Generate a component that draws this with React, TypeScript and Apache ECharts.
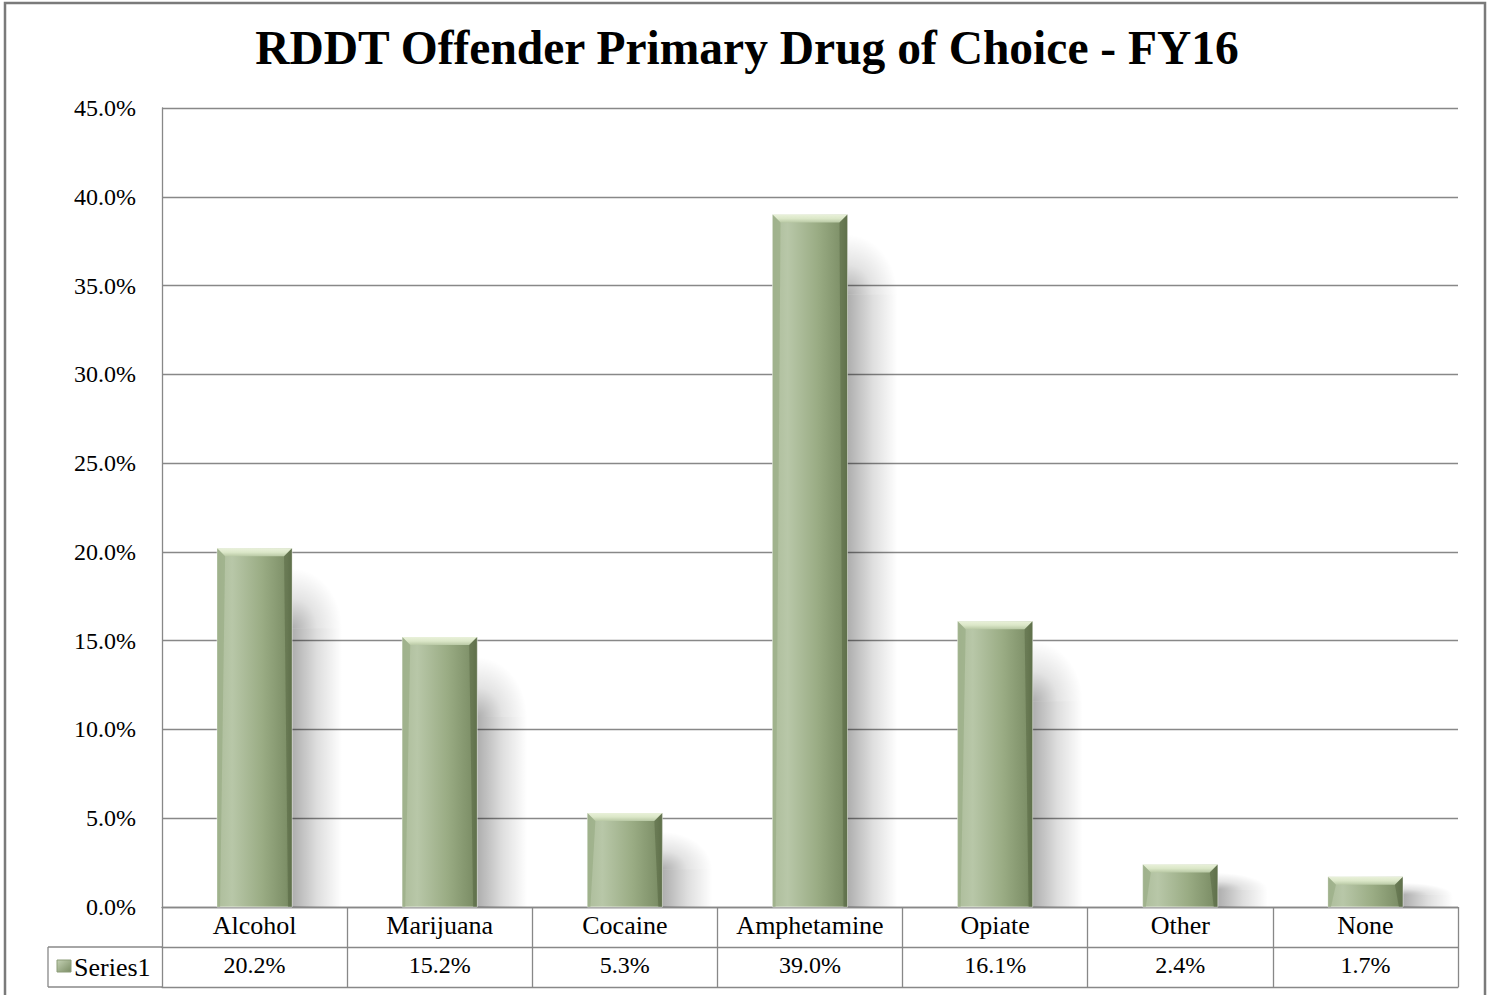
import React, { useEffect, useRef } from "react";
import * as echarts from "echarts";

const categories = ["Alcohol", "Marijuana", "Cocaine", "Amphetamine", "Opiate", "Other", "None"];
const values = [20.2, 15.2, 5.3, 39.0, 16.1, 2.4, 1.7];
const seriesName = "Series1";
const yTicks = { min: 0, max: 45, interval: 5 };
const titleText = "RDDT Offender Primary Drug of Choice - FY16";

const FONT = "'Liberation Serif', 'DejaVu Serif', serif";
const LINE = "#888888";
const LBL = 24;
const CAT = 26;

export default function App() {
  const ref = useRef<HTMLDivElement>(null);
  useEffect(() => {
    if (!ref.current) return;
    const chart = echarts.init(ref.current, null, { renderer: "svg" });
    const barGrad = new echarts.graphic.LinearGradient(0, 0, 1, 0, [
      { offset: 0, color: "#adbd9b" },
      { offset: 0.2, color: "#b8c7a8" },
      { offset: 0.6, color: "#9aac84" },
      { offset: 0.92, color: "#7e9068" },
      { offset: 1, color: "#6c7e57" },
    ]);
    const bevelGrad = new echarts.graphic.LinearGradient(0, 0, 0, 1, [
      { offset: 0, color: "#e9f1da" },
      { offset: 0.5, color: "#dbe7c8" },
      { offset: 1, color: "#b9c9a5" },
    ]);
    const shadowGrad = new echarts.graphic.LinearGradient(0, 0, 1, 0, [
      { offset: 0, color: "rgba(0,0,0,0.32)" },
      { offset: 0.5, color: "rgba(0,0,0,0.13)" },
      { offset: 1, color: "rgba(0,0,0,0)" },
    ]);
    const fadeGrad = new echarts.graphic.RadialGradient(0, 1, 1, [
      { offset: 0, color: "rgba(0,0,0,0.32)" },
      { offset: 0.5, color: "rgba(0,0,0,0.11)" },
      { offset: 1, color: "rgba(0,0,0,0)" },
    ]);
    chart.setOption({
      animation: false,
      backgroundColor: "#ffffff",
      title: {
        text: titleText,
        left: "center",
        top: 19,
        textStyle: { fontFamily: FONT, fontWeight: "bold", fontSize: 47.5, color: "#000" },
      },
      grid: { left: 162, right: 36, top: 108, bottom: 88 },
      yAxis: {
        type: "value",
        min: yTicks.min,
        max: yTicks.max,
        interval: yTicks.interval,
        axisLine: { show: true, lineStyle: { color: LINE, width: 1.3 } },
        axisTick: { show: false },
        splitLine: { lineStyle: { color: LINE, width: 1.3 } },
        axisLabel: {
          formatter: (v: number) => v.toFixed(1) + "%",
          fontFamily: FONT,
          fontSize: LBL,
          color: "#000",
          margin: 26,
        },
      },
      xAxis: [
        {
          type: "category",
          data: categories,
          position: "bottom",
          axisLine: { show: true, lineStyle: { color: LINE, width: 1.3 } },
          axisTick: { show: true, length: 80, interval: 0, lineStyle: { color: LINE, width: 1.3 } },
          axisLabel: { fontFamily: FONT, fontSize: CAT, color: "#000", margin: 5, interval: 0 },
        },
        {
          type: "category",
          data: categories,
          position: "bottom",
          offset: 40,
          axisLine: { show: true, lineStyle: { color: LINE, width: 1.3 } },
          axisTick: { show: false },
          axisLabel: {
            fontFamily: FONT,
            fontSize: LBL,
            color: "#000",
            margin: 6,
            interval: 0,
            formatter: (_v: string, i: number) => values[i].toFixed(1) + "%",
          },
        },
        {
          type: "category",
          data: categories,
          position: "bottom",
          offset: 80,
          axisLine: { show: true, lineStyle: { color: LINE, width: 1.3 } },
          axisTick: { show: false },
          axisLabel: { show: false },
        },
      ],
      series: [
        {
          type: "custom",
          name: seriesName,
          xAxisIndex: 0,
          data: values.map((v, i) => [i, v]),
          renderItem: (params: any, api: any) => {
            const idx = api.value(0);
            const val = api.value(1);
            const top = api.coord([idx, val]);
            const base = api.coord([idx, 0]);
            const bw = api.size([1, 0])[0] * 0.405;
            const x0 = top[0] - bw / 2;
            const h = base[1] - top[1];
            const bev = Math.min(8, h / 3);
            const sStart = top[1] + Math.min(80, h * 0.6);
            const fadeStart = top[1] + Math.min(20, h * 0.2);
            const sw = 50;
            return {
              type: "group",
              children: [
                {
                  type: "rect",
                  shape: { x: x0 + bw, y: fadeStart, width: sw, height: Math.max(0, sStart - fadeStart) },
                  style: { fill: fadeGrad },
                },
                {
                  type: "rect",
                  shape: { x: x0 + bw, y: sStart, width: sw, height: Math.max(0, base[1] - sStart) },
                  style: { fill: shadowGrad },
                },
                {
                  type: "rect",
                  shape: { x: x0, y: top[1], width: bw, height: h },
                  style: { fill: barGrad, stroke: "rgba(255,255,255,0.6)", lineWidth: 1 },
                },
                {
                  type: "polygon",
                  shape: {
                    points: [
                      [x0, top[1]],
                      [x0 + bw, top[1]],
                      [x0 + bw - bev, top[1] + bev],
                      [x0 + bev, top[1] + bev],
                    ],
                  },
                  style: { fill: bevelGrad },
                },
                {
                  type: "polygon",
                  shape: {
                    points: [
                      [x0 + bw, top[1]],
                      [x0 + bw, base[1]],
                      [x0 + bw - 4, base[1]],
                      [x0 + bw - bev, top[1] + bev],
                    ],
                  },
                  style: { fill: "rgba(80,96,60,0.45)" },
                },
                {
                  type: "polygon",
                  shape: {
                    points: [
                      [x0, top[1]],
                      [x0 + bev, top[1] + bev],
                      [x0 + 3, base[1]],
                      [x0, base[1]],
                    ],
                  },
                  style: { fill: "rgba(150,170,130,0.6)" },
                },
              ],
            };
          },
        },
      ],
      graphic: [
        {
          type: "rect",
          shape: { x: 5, y: 3, width: 1480, height: 1010 },
          style: { fill: "none", stroke: "#7a7a7a", lineWidth: 2.5 },
          z: 100,
        },
        { type: "line", shape: { x1: 48, y1: 947, x2: 162, y2: 947 }, style: { stroke: LINE, lineWidth: 1.3 } },
        { type: "line", shape: { x1: 48, y1: 987, x2: 162, y2: 987 }, style: { stroke: LINE, lineWidth: 1.3 } },
        { type: "line", shape: { x1: 48, y1: 947, x2: 48, y2: 987 }, style: { stroke: LINE, lineWidth: 1.3 } },
        {
          type: "rect",
          shape: { x: 57, y: 960, width: 14, height: 12 },
          style: {
            fill: new echarts.graphic.LinearGradient(0, 0, 1, 1, [
              { offset: 0, color: "#c5d2b5" },
              { offset: 1, color: "#7a8c64" },
            ]),
            stroke: "#8c9c78",
            lineWidth: 1,
          },
        },
        {
          type: "text",
          x: 74,
          y: 967,
          style: { text: seriesName, font: `${CAT}px ${FONT}`, fill: "#000", verticalAlign: "middle" },
        },
      ],
    });
    return () => chart.dispose();
  }, []);
  return (
    <div
      ref={ref}
      style={{ position: "fixed", left: 0, top: 0, width: 1494, height: 995, background: "#fff" }}
    />
  );
}
